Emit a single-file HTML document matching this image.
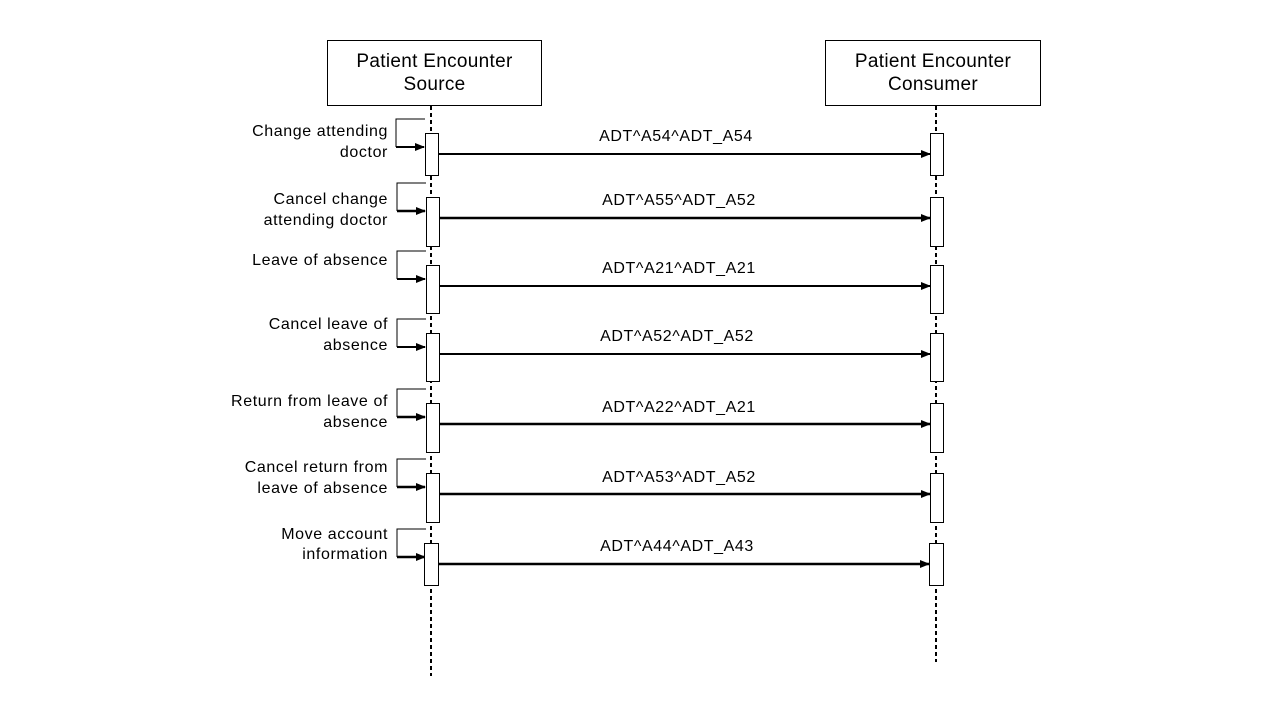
<!DOCTYPE html>
<html><head><meta charset="utf-8"><style>
html,body{margin:0;padding:0;background:#fff;}
svg{display:block;}
text{font-family:"Liberation Sans",Arial,sans-serif;fill:#000;}
.s{font-size:16px;letter-spacing:0.6px;}
.h{font-size:19px;letter-spacing:0.3px;}
</style></head><body>
<svg width="1280" height="720" viewBox="0 0 1280 720" xmlns="http://www.w3.org/2000/svg">
<defs>
<marker id="ah" markerWidth="10" markerHeight="8" refX="9" refY="4" orient="auto" markerUnits="userSpaceOnUse">
<path d="M0,0 L10,4 L0,8 z" fill="#000"/>
</marker>
</defs>
<rect x="327.5" y="40.5" width="214" height="65" fill="#fff" stroke="#000" stroke-width="1"/>
<text class="h" x="434.5" y="67" text-anchor="middle">Patient Encounter</text>
<text class="h" x="434.5" y="90" text-anchor="middle">Source</text>
<rect x="825.5" y="40.5" width="215" height="65" fill="#fff" stroke="#000" stroke-width="1"/>
<text class="h" x="933" y="67" text-anchor="middle">Patient Encounter</text>
<text class="h" x="933" y="90" text-anchor="middle">Consumer</text>
<line x1="431" y1="106" x2="431" y2="676" stroke="#000" stroke-width="2" stroke-dasharray="4,3"/>
<line x1="936" y1="106" x2="936" y2="662" stroke="#000" stroke-width="2" stroke-dasharray="4,3"/>

<g class="s">
<polyline points="425,119 396,119 396,147" fill="none" stroke="#000" stroke-width="1"/>
<line x1="396" y1="147" x2="424" y2="147" stroke="#000" stroke-width="2" marker-end="url(#ah)"/>
<rect x="425.5" y="133.5" width="13" height="42" fill="#fff" stroke="#000"/>
<rect x="930.5" y="133.5" width="13" height="42" fill="#fff" stroke="#000"/>
<line x1="439" y1="154" x2="930" y2="154" stroke="#000" stroke-width="2" marker-end="url(#ah)"/>
<text x="676" y="141" text-anchor="middle">ADT^A54^ADT_A54</text>
<text x="388" y="136" text-anchor="end">Change attending</text>
<text x="388" y="157" text-anchor="end">doctor</text>

<polyline points="426,183 397,183 397,211" fill="none" stroke="#000" stroke-width="1"/>
<line x1="397" y1="211" x2="425" y2="211" stroke="#000" stroke-width="2.5" marker-end="url(#ah)"/>
<rect x="426.5" y="197.5" width="13" height="49" fill="#fff" stroke="#000"/>
<rect x="930.5" y="197.5" width="13" height="49" fill="#fff" stroke="#000"/>
<line x1="440" y1="218" x2="930" y2="218" stroke="#000" stroke-width="2.5" marker-end="url(#ah)"/>
<text x="679" y="205" text-anchor="middle">ADT^A55^ADT_A52</text>
<text x="388" y="204" text-anchor="end">Cancel change</text>
<text x="388" y="225" text-anchor="end">attending doctor</text>

<polyline points="426,251 397,251 397,279" fill="none" stroke="#000" stroke-width="1"/>
<line x1="397" y1="279" x2="425" y2="279" stroke="#000" stroke-width="2" marker-end="url(#ah)"/>
<rect x="426.5" y="265.5" width="13" height="48" fill="#fff" stroke="#000"/>
<rect x="930.5" y="265.5" width="13" height="48" fill="#fff" stroke="#000"/>
<line x1="440" y1="286" x2="930" y2="286" stroke="#000" stroke-width="2" marker-end="url(#ah)"/>
<text x="679" y="273" text-anchor="middle">ADT^A21^ADT_A21</text>
<text x="388" y="265" text-anchor="end">Leave of absence</text>

<polyline points="426,319 397,319 397,347" fill="none" stroke="#000" stroke-width="1"/>
<line x1="397" y1="347" x2="425" y2="347" stroke="#000" stroke-width="2" marker-end="url(#ah)"/>
<rect x="426.5" y="333.5" width="13" height="48" fill="#fff" stroke="#000"/>
<rect x="930.5" y="333.5" width="13" height="48" fill="#fff" stroke="#000"/>
<line x1="440" y1="354" x2="930" y2="354" stroke="#000" stroke-width="2" marker-end="url(#ah)"/>
<text x="677" y="341" text-anchor="middle">ADT^A52^ADT_A52</text>
<text x="388" y="329" text-anchor="end">Cancel leave of</text>
<text x="388" y="350" text-anchor="end">absence</text>

<polyline points="426,389 397,389 397,417" fill="none" stroke="#000" stroke-width="1"/>
<line x1="397" y1="417" x2="425" y2="417" stroke="#000" stroke-width="2.5" marker-end="url(#ah)"/>
<rect x="426.5" y="403.5" width="13" height="49" fill="#fff" stroke="#000"/>
<rect x="930.5" y="403.5" width="13" height="49" fill="#fff" stroke="#000"/>
<line x1="440" y1="424" x2="930" y2="424" stroke="#000" stroke-width="2.5" marker-end="url(#ah)"/>
<text x="679" y="412" text-anchor="middle">ADT^A22^ADT_A21</text>
<text x="388" y="406" text-anchor="end">Return from leave of</text>
<text x="388" y="427" text-anchor="end">absence</text>

<polyline points="426,459 397,459 397,487" fill="none" stroke="#000" stroke-width="1"/>
<line x1="397" y1="487" x2="425" y2="487" stroke="#000" stroke-width="2.5" marker-end="url(#ah)"/>
<rect x="426.5" y="473.5" width="13" height="49" fill="#fff" stroke="#000"/>
<rect x="930.5" y="473.5" width="13" height="49" fill="#fff" stroke="#000"/>
<line x1="440" y1="494" x2="930" y2="494" stroke="#000" stroke-width="2.5" marker-end="url(#ah)"/>
<text x="679" y="482" text-anchor="middle">ADT^A53^ADT_A52</text>
<text x="388" y="472" text-anchor="end">Cancel return from</text>
<text x="388" y="493" text-anchor="end">leave of absence</text>

<polyline points="426,529 397,529 397,557" fill="none" stroke="#000" stroke-width="1"/>
<line x1="397" y1="557" x2="425" y2="557" stroke="#000" stroke-width="2.5" marker-end="url(#ah)"/>
<rect x="424.5" y="543.5" width="14" height="42" fill="#fff" stroke="#000"/>
<rect x="929.5" y="543.5" width="14" height="42" fill="#fff" stroke="#000"/>
<line x1="439" y1="564" x2="929" y2="564" stroke="#000" stroke-width="2.5" marker-end="url(#ah)"/>
<text x="677" y="551" text-anchor="middle">ADT^A44^ADT_A43</text>
<text x="388" y="539" text-anchor="end">Move account</text>
<text x="388" y="559" text-anchor="end">information</text>
</g>
</svg>
</body></html>
